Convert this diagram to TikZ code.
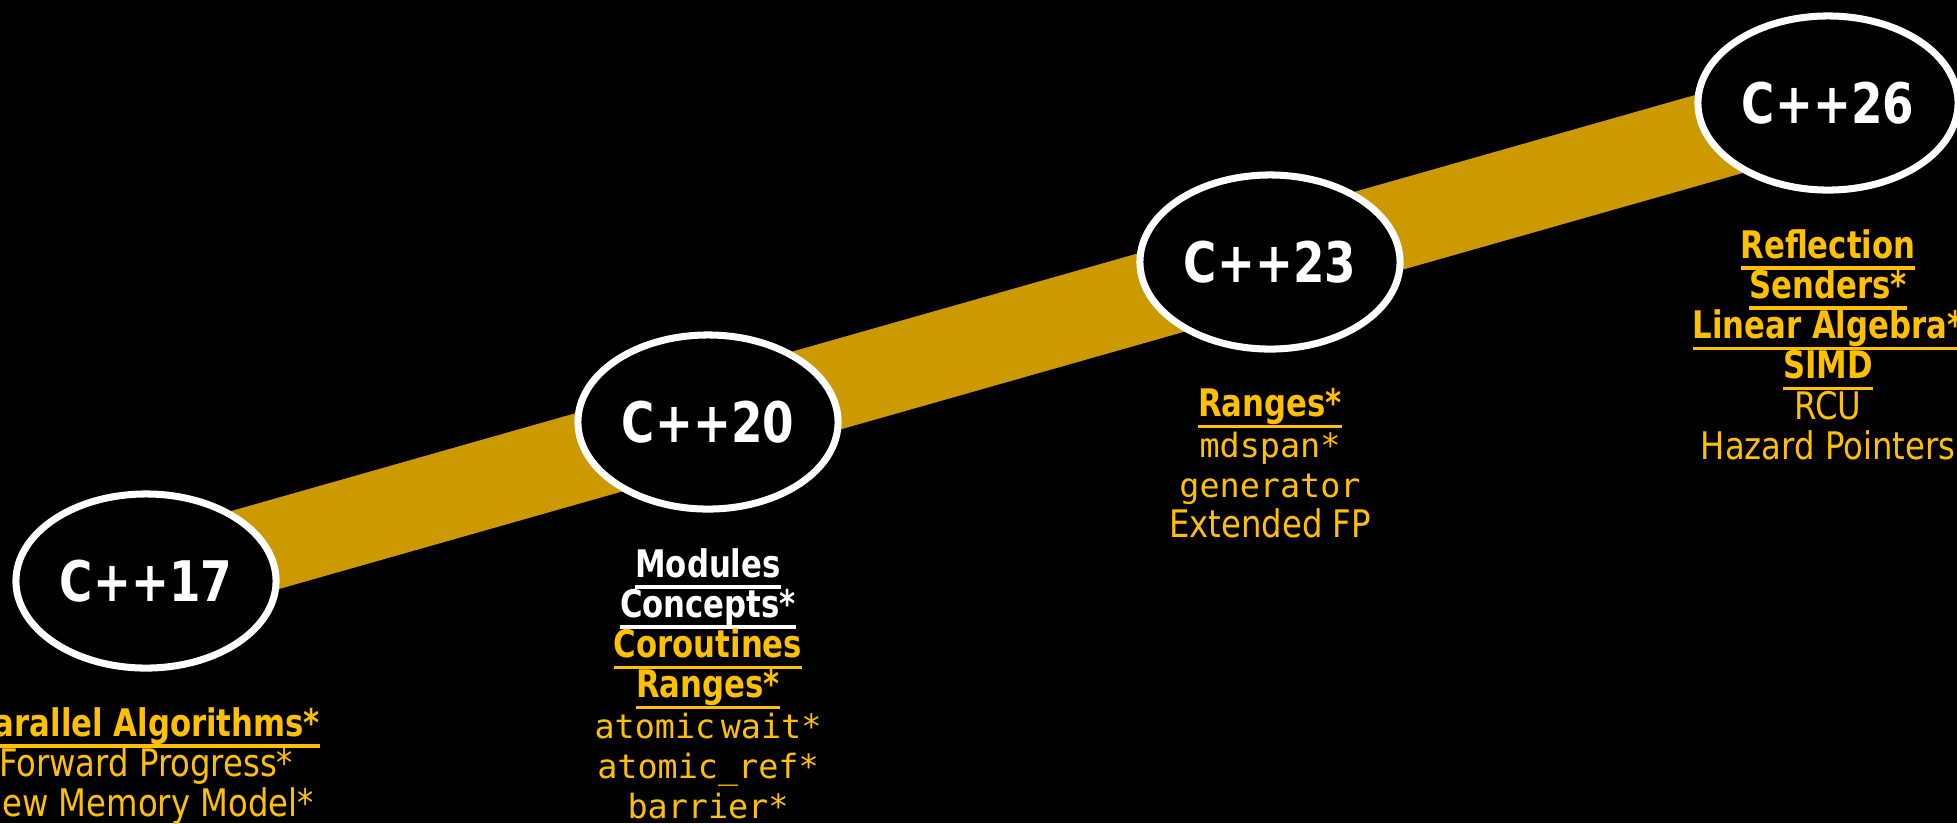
\documentclass[tikz,border=0pt]{standalone}
\usepackage{fontspec}
\setmainfont{DejaVu Sans}[FakeStretch=0.85, BoldFeatures={FakeStretch=0.81}]
\newfontfamily\codefont{DejaVu Sans Mono}[Scale=0.88]
\usetikzlibrary{shapes.geometric,positioning}

\definecolor{gold}{HTML}{CC9900}
\definecolor{amber}{HTML}{FFC000}

\pgfdeclarelayer{bg}
\pgfdeclarelayer{road}
\pgfsetlayers{bg,road,main}

% underline at a fixed depth below the baseline
\newcommand{\ulbar}[1]{\setbox0\hbox{#1}\rlap{\rule[-3.1pt]{\wd0}{0.9pt}}\box0}

\tikzset{
  release/.style={ellipse, draw=white, line width=2pt, fill=black,
    minimum width=2.6cm, minimum height=1.74cm, inner sep=0pt,
    text=white, font=\fontsize{15.9}{16}\selectfont\bfseries},
  feats/.style={align=center, inner sep=0pt, text=amber,
    font=\fontsize{10.8}{11.4}\selectfont},
  road/.style={gold, line width=0.88cm}
}

\begin{document}
\begin{tikzpicture}[x=0.01cm, y=-0.01cm]
    \useasboundingbox (0,0) rectangle (1957,823);
    \clip (0,0) rectangle (1957,823);
    \begin{pgfonlayer}{bg}
        \fill[black] (0,0) rectangle (1957,823);
    \end{pgfonlayer}

    % the four releases
    \node[release] (c17) at (146,581) {C++17};
    \node[release] (c20) at (708,422) {C++20};
    \node[release] (c23) at (1270,262) {C++23};
    \node[release] (c26) at (1828,103) {C++26};

    \begin{pgfonlayer}{road}
        \draw[road] (c17.center) -- (c26.center);
    \end{pgfonlayer}

    % feature lists
    \node[feats, below=1.26cm of c17.center] (f17) {%
        \ulbar{\textbf{Parallel Algorithms*}}\\
        Forward Progress*\\
        New Memory Model*};
    \node[feats, below=1.26cm of c20.center] (f20) {%
        \textcolor{white}{\ulbar{\textbf{Modules}}}\\
        \textcolor{white}{\ulbar{\textbf{Concepts*}}}\\
        \ulbar{\textbf{Coroutines}}\\
        \ulbar{\textbf{Ranges*}}\\
        {\codefont atomic\,wait*}\\
        {\codefont atomic\_ref*}\\
        {\codefont barrier*}};
    \node[feats, below=1.26cm of c23.center] (f23) {%
        \ulbar{\textbf{Ranges*}}\\
        {\codefont mdspan*}\\
        {\codefont generator}\\
        Extended FP};
    \node[feats, below=1.26cm of c26.center] (f26) {%
        \ulbar{\textbf{Reflection}}\\
        \ulbar{\textbf{Senders*}}\\
        \ulbar{\textbf{Linear Algebra*}}\\
        \ulbar{\textbf{SIMD}}\\
        RCU\\
        Hazard Pointers};
\end{tikzpicture}
\end{document}
